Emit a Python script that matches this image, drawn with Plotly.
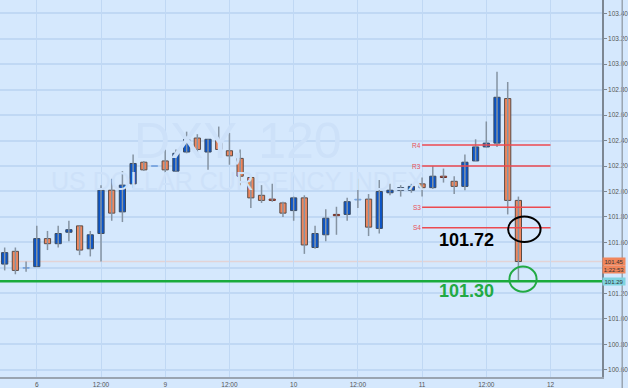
import plotly.graph_objects as go

# ---- data (2-hour candles, DXY) ----
idx = list(range(49))
opens = [101.43, 101.53, 101.40, 101.41, 101.63, 101.59, 101.68, 101.73, 101.55, 101.67,
         102.01, 101.84, 102.06, 102.23, 102.20, 102.24, 102.16, 102.31, 102.42, 102.31,
         102.40, 102.32, 102.26, 102.11, 101.97, 101.94, 101.91, 101.85, 101.95, 101.56,
         101.66, 101.82, 101.82, 101.936, 101.94, 101.71, 101.99, 102.01, 102.01, 102.06,
         102.03, 102.12, 102.08, 102.04, 102.24, 102.35, 102.38, 102.73, 101.93]
highs = [101.56, 101.56, 101.45, 101.73, 101.69, 101.73, 101.77, 101.73, 101.69, 102.05,
         102.10, 102.16, 102.29, 102.24, 102.20, 102.33, 102.33, 102.47, 102.45, 102.41,
         102.51, 102.46, 102.33, 102.11, 102.05, 102.06, 101.92, 101.96, 101.97, 101.73,
         101.86, 101.88, 101.95, 102.10, 101.98, 102.09, 102.06, 102.05, 102.06, 102.11,
         102.20, 102.18, 102.12, 102.29, 102.41, 102.55, 102.94, 102.86, 101.96]
lows = [101.38, 101.35, 101.37, 101.41, 101.54, 101.56, 101.61, 101.50, 101.49, 101.45,
        101.77, 101.76, 102.03, 102.16, 102.20, 102.15, 102.16, 102.30, 102.28, 102.17,
        102.29, 102.21, 102.05, 101.87, 101.91, 101.92, 101.80, 101.77, 101.51, 101.55,
        101.61, 101.66, 101.77, 101.87, 101.65, 101.67, 101.97, 101.96, 101.99, 101.96,
        102.02, 102.07, 101.98, 102.01, 102.24, 102.35, 102.35, 101.82, 101.29]
closes = [101.52, 101.38, 101.40, 101.63, 101.59, 101.67, 101.70, 101.54, 101.66, 102.01,
          101.83, 102.05, 102.22, 102.17, 102.20, 102.17, 102.30, 102.41, 102.33, 102.41,
          102.33, 102.28, 102.12, 101.95, 101.93, 101.93, 101.83, 101.95, 101.58, 101.67,
          101.79, 101.81, 101.92, 101.936, 101.72, 102.00, 102.01, 102.03, 102.04, 102.03,
          102.12, 102.11, 102.04, 102.23, 102.35, 102.38, 102.74, 101.93, 101.45]

x_tick_pos = [3, 9, 15, 21, 27, 33, 39, 45, 51]
x_tick_text = ["6", "12:00", "9", "12:00", "10", "12:00", "11", "12:00", "12"]
y_ticks = [100.60, 100.80, 101.00, 101.20, 101.40, 101.60, 101.80, 102.00, 102.20,
           102.40, 102.60, 102.80, 103.00, 103.20, 103.40]
y_tick_text = ["100.60", "100.80", "101.00", "101.20", "", "101.60", "101.80", "102.00",
               "102.20", "102.40", "102.60", "102.80", "103.00", "103.20", "103.40"]

pivot_names = ["R4", "R3", "S3", "S4"]
pivot_levels = [102.365, 102.20, 101.877, 101.715]
pivot_start, pivot_end = 39, 51

last_price = 101.45
support_level = 101.295

BG = "#d5e8fd"
GRID = "#c0d8f4"
UP, DOWN, FLAT = "#0b55c9", "#f0865c", "#7aa6e0"

# wicks
wx, wy = [], []
for i, h, l in zip(idx, highs, lows):
    wx += [i, i, None]
    wy += [l, h, None]

# bodies
base, height, fills, edges = [], [], [], []
for o, c in zip(opens, closes):
    lo_b, hi_b = min(o, c), max(o, c)
    if hi_b - lo_b < 0.006:
        mid = (o + c) / 2
        lo_b, hi_b = mid - 0.003, mid + 0.003
    base.append(lo_b)
    height.append(hi_b - lo_b)
    if c > o:
        fills.append(UP); edges.append("#3a4a60")
    elif c < o:
        fills.append(DOWN); edges.append("#5a4b46" if (o - c) > 0.015 else "#6a2a20")
    else:
        fills.append(FLAT); edges.append(FLAT)

fig = go.Figure()
fig.add_trace(go.Scatter(x=wx, y=wy, mode="lines", line=dict(color="#8593a2", width=1.5),
                         showlegend=False, hoverinfo="skip"))
fig.add_trace(go.Bar(x=idx, y=height, base=base, width=0.58,
                     marker=dict(color=fills, line=dict(color=edges, width=1)),
                     showlegend=False, hoverinfo="skip"))

shapes = []
shapes.append(dict(type="line", xref="paper", x0=0, x1=1, yref="y", y0=last_price, y1=last_price,
                   line=dict(color="#e3d3d6", width=1.5), layer="below"))
shapes.append(dict(type="line", xref="paper", x0=0, x1=1, yref="y", y0=support_level, y1=support_level,
                   line=dict(color="#1aab3c", width=2.5)))
for lvl in pivot_levels:
    shapes.append(dict(type="line", x0=pivot_start, x1=pivot_end, y0=lvl, y1=lvl,
                       line=dict(color="#ec4a50", width=1.5)))
shapes.append(dict(type="circle", x0=47.04, x1=50.07, y0=101.603, y1=101.803,
                   line=dict(color="#000000", width=2)))
shapes.append(dict(type="circle", x0=47.16, x1=49.70, y0=101.2125, y1=101.41,
                   line=dict(color="#22aa44", width=2)))
shapes.append(dict(type="line", xref="paper", yref="paper", x0=1.0336, x1=1.0336, y0=-0.03, y1=1,
                   line=dict(color="#9aa4b0", width=1.5)))

annotations = []
annotations.append(dict(x=0.395, y=102.40, xref="paper", yref="y", text="DXY, 120", showarrow=False,
                        font=dict(size=50, color="#cde1f9", family="Liberation Sans")))
annotations.append(dict(x=0.395, y=102.08, xref="paper", yref="y", text="US DOLLAR CURRENCY INDEX",
                        showarrow=False, font=dict(size=25, color="#cde1f9", family="Liberation Sans")))
for name, lvl in zip(pivot_names, pivot_levels):
    annotations.append(dict(x=38.52, y=lvl, text=name, showarrow=False,
                            font=dict(size=6.5, color="#e8505a", family="Liberation Sans")))
annotations.append(dict(x=43.17, y=101.621, text="<b>101.72</b>", showarrow=False,
                        font=dict(size=18, color="#000000", family="Liberation Sans")))
annotations.append(dict(x=43.17, y=101.215, text="<b>101.30</b>", showarrow=False,
                        font=dict(size=18, color="#22aa44", family="Liberation Sans")))
tag_font = dict(size=6, color="#333333", family="Liberation Sans")
annotations.append(dict(x=1.0, xref="paper", xanchor="left", y=last_price, text="101.45", showarrow=False,
                        bgcolor="#f0865c", borderpad=0.5, font=tag_font, width=21))
annotations.append(dict(x=1.0, xref="paper", xanchor="left", y=101.385, text="1:22:53", showarrow=False,
                        bgcolor="#f0865c", borderpad=0.5, font=tag_font, width=21))
annotations.append(dict(x=1.0, xref="paper", xanchor="left", y=101.29, text="101.29", showarrow=False,
                        bgcolor="#7fd3e0", borderpad=0.5, font=tag_font, width=21))

fig.update_layout(
    width=628, height=388,
    margin=dict(l=0, r=23, t=0, b=9),
    paper_bgcolor=BG, plot_bgcolor=BG,
    shapes=shapes, annotations=annotations,
    xaxis=dict(range=[-0.437, 55.81], tickvals=x_tick_pos, ticktext=x_tick_text,
               showgrid=True, gridcolor=GRID, gridwidth=1, zeroline=False,
               showline=True, linecolor="#9aa4b0", linewidth=2,
               ticks="", tickfont=dict(size=6.5, color="#555555", family="Liberation Sans"),
               fixedrange=True),
    yaxis=dict(range=[100.543, 103.504], side="right", tickvals=y_ticks, ticktext=y_tick_text,
               showgrid=True, gridcolor=GRID, gridwidth=1.5, zeroline=False,
               showline=True, linecolor="#7d8792", linewidth=1.5,
               ticks="outside", ticklen=3, tickcolor="#7d8792",
               tickfont=dict(size=6.5, color="#555555", family="Liberation Sans"), fixedrange=True),
)

fig.write_html("out.html", config={"displayModeBar": False},
               post_script="document.body.style.margin='0';document.body.style.overflow='hidden';")
